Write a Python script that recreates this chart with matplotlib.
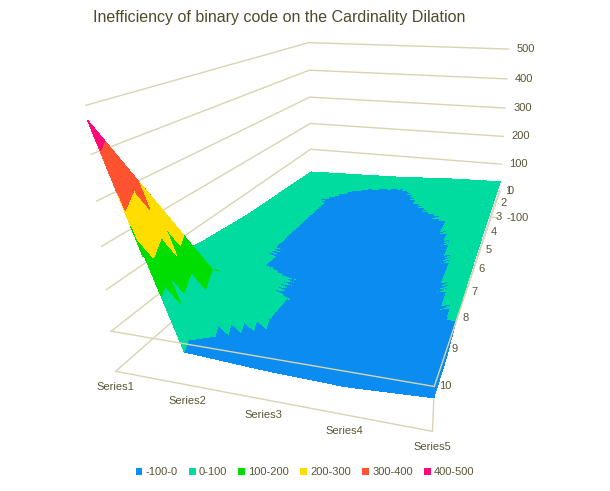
import itertools

import numpy as np
import matplotlib.pyplot as plt
import matplotlib.tri as mtri
from matplotlib.colors import ListedColormap, BoundaryNorm
from matplotlib.patches import Patch
from mpl_toolkits.mplot3d import proj3d

plt.rcParams['font.family'] = ['Liberation Sans', 'DejaVu Sans']

series_names = ['Series1', 'Series2', 'Series3', 'Series4', 'Series5']
category_labels = ['1', '2', '3', '4', '5', '6', '7', '8', '9', '10']

# one list per series, values for categories 1..10 (1 = back row)
series1 = [10, 15, 20, 25, 30, 40, 50, 65, 120, 470]
series2 = [15, 5, -5, -5, -5, -5, 0, 40, 110, -20]
series3 = [20, -10, -20, -25, -25, -30, -30, -30, -30, -30]
series4 = [30, 20, 5, -10, -20, -30, -35, -40, -40, -35]
series5 = [35, 35, 30, 30, 25, 20, 15, 5, -20, -25]

band_edges = [-100, 0, 100, 200, 300, 400, 500]
band_labels = ['-100-0', '0-100', '100-200', '200-300', '300-400', '400-500']
band_colors = ['#0a8cf0', '#00dca0', '#00dd00', '#ffdd00', '#ff5230', '#ff0a78']
z_ticks = [-100, 0, 100, 200, 300, 400, 500]

text_color = '#5a5436'
grid_color = '#d8d4b0'

values = np.array([series1, series2, series3, series4, series5], dtype=float)
n_ser, n_cat = values.shape
xmin, xmax = 0, n_ser - 1
ymin, ymax = 0, n_cat - 1
zmin, zmax = z_ticks[0], z_ticks[-1]

# box corners (series, depth, value) and where they sit in the 610x491 picture;
# used only to pick the camera
cam_points = [(xmin, ymin, 500), (xmin, ymin, 0), (xmin, ymin, -100),
              (xmax, ymin, 0), (xmax, ymin, -100),
              (xmin, ymax, 500), (xmin, ymax, 100),
              (xmax, ymax, 500), (xmax, ymax, 100), (xmax, ymax, 0)]
cam_pixels = [(90, 105), (110, 331), (113, 370),
              (440, 388), (427, 432),
              (310, 42), (310, 149),
              (512, 49), (500, 164), (497, 192)]

# x = series index, y = depth (category 1 at the back, 10 at the front)
xs = np.arange(n_ser)
ys = (n_cat - 1) - np.arange(n_cat)
X, Y = np.meshgrid(xs, ys, indexing='ij')


def node(i, depth):
    return i * n_cat + (n_cat - 1 - depth)


# split every grid cell along the same diagonal
triangles = []
for i in range(n_ser - 1):
    for d in range(n_cat - 1):
        a, b, c, e = node(i, d), node(i + 1, d), node(i, d + 1), node(i + 1, d + 1)
        triangles += [(a, b, e), (a, e, c)]

tri = mtri.Triangulation(X.ravel(), Y.ravel(), np.array(triangles))
refiner = mtri.UniformTriRefiner(tri)
tri_f, z_f = refiner.refine_field(values.ravel(),
                                  triinterpolator=mtri.LinearTriInterpolator(tri, values.ravel()),
                                  subdiv=3)

cmap = ListedColormap(band_colors)
norm = BoundaryNorm(band_edges, cmap.N)

W, H = 610, 491
fig = plt.figure(figsize=(W / 100, H / 100), dpi=100)
ax = fig.add_axes([0.1, 0.0, 0.8, 0.99], projection='3d')
ax.computed_zorder = False
ax.set_axis_off()
ax.patch.set_alpha(0)
ax.set_xlim(xmin, xmax)
ax.set_ylim(ymin, ymax)
ax.set_zlim(zmin, zmax)
fig.canvas.draw()

P = np.array(cam_points, dtype=float)
T = np.array(cam_pixels, dtype=float)
T[:, 1] = H - T[:, 1]


def set_camera(p):
    el, az, fl, ay, azz = p
    ax.view_init(elev=el, azim=az)
    ax.set_proj_type('persp', focal_length=fl)
    ax.set_box_aspect((1.0, ay, azz))


def fit(p):
    set_camera(p)
    px, py, _ = proj3d.proj_transform(P[:, 0], P[:, 1], P[:, 2], ax.get_proj())
    q = ax.transData.transform(np.column_stack([px, py]))
    qm, tm = q.mean(0), T.mean(0)
    dq, dt = q - qm, T - tm
    s = (dq * dt).sum() / (dq * dq).sum()
    b = tm - s * qm
    return ((s * q + b - T) ** 2).sum(), s, b


grid = itertools.product(np.linspace(12, 40, 8), np.linspace(-88, -60, 8),
                         np.geomspace(0.08, 0.5, 6), np.linspace(0.7, 2.2, 6),
                         np.linspace(0.5, 1.5, 6))
best = min(grid, key=lambda p: fit(p)[0])
best = list(best)
steps = [2.0, 2.0, 0.03, 0.15, 0.1]
for _ in range(6):
    improved = True
    while improved:
        improved = False
        for k in range(5):
            for sgn in (-1, 1):
                cand = list(best)
                cand[k] += sgn * steps[k]
                if cand[2] > 0.02 and fit(cand)[0] < fit(best)[0]:
                    best = cand
                    improved = True
    steps = [s / 2 for s in steps]

err, s, b = fit(best)
bb = ax.bbox
cx, cy = s * (bb.x0 + bb.width / 2) + b[0], s * (bb.y0 + bb.height / 2) + b[1]
side = s * bb.width
ax.set_position([(cx - side / 2) / W, (cy - side / 2) / H, side / W, side / H])

# wall gridlines, floor edge and the category axis at zero
for z in z_ticks:
    ax.plot([xmax, xmin, xmin], [ymax, ymax, ymin], [z, z, z], color=grid_color, lw=1, zorder=1)
ax.plot([xmin, xmax, xmax, xmax], [ymin, ymin, ymin, ymax], [zmin, zmin, 0, 0],
        color=grid_color, lw=1, zorder=1)

ax.plot_trisurf(tri_f, z_f, cmap=cmap, norm=norm, shade=True, linewidth=0,
                antialiased=False, zorder=2)

# zero line across the front
ax.plot([xmin, xmax], [ymin, ymin], [0, 0], color=grid_color, lw=1, zorder=3)
ax.plot([xmax, xmax], [ymin, ymax], [0, 0], color=grid_color, lw=1, zorder=3)

M = ax.get_proj()


def label(x, y, z, s, dx, dy, **kw):
    px, py, _ = proj3d.proj_transform(x, y, z, M)
    ax.annotate(s, xy=(px, py), xycoords='data', xytext=(dx, dy), textcoords='offset pixels',
                color=text_color, fontsize=8, annotation_clip=False, **kw)


for z in z_ticks:
    label(xmax, ymax, z, str(z), 8, 0, ha='left', va='center')
for i, name in enumerate(series_names):
    label(xs[i], ymin, zmin, name, 0, -16, ha='center', va='center')
for j, lab in enumerate(category_labels):
    label(xmax, ys[j], 0, lab, 5, 0, ha='left', va='center')

fig.text(0.152, 0.965, 'Inefficiency of binary code on the Cardinality Dilation',
         color='#4f4a2a', fontsize=11.5, ha='left', va='center')

handles = [Patch(facecolor=c, edgecolor='none') for c in band_colors]
fig.legend(handles, band_labels, loc='center', bbox_to_anchor=(0.5, 0.038), ncol=6,
           frameon=False, fontsize=8, handlelength=0.6, handleheight=0.6,
           handletextpad=0.3, columnspacing=1.0, labelcolor=text_color)

fig.savefig('out.png', dpi=100)
